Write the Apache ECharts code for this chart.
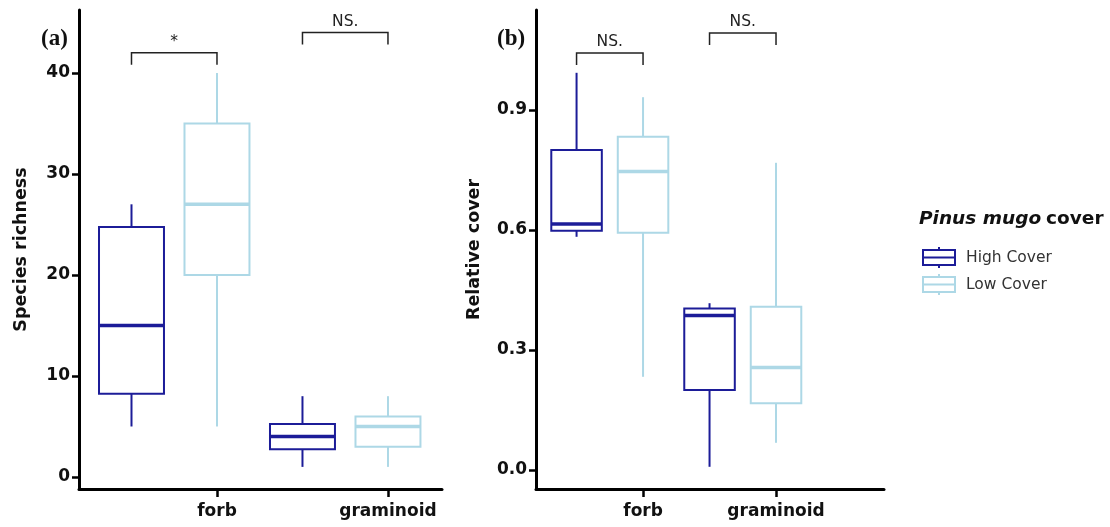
<!DOCTYPE html>
<html>
<head>
<meta charset="utf-8">
<script src="https://cdn.jsdelivr.net/npm/echarts@6/dist/echarts.min.js"></script>
<style>
  html, body { margin: 0; background: #fff; }
  #chart { width: 1110px; height: 527px; }
</style>
</head>
<body>
<div id="chart"></div>
<script>
const categories = ['forb', 'graminoid'];
const groups = ['High Cover', 'Low Cover'];
// each box: [min, Q1, median, Q3, max], one per category
const richnessHigh = [[5, 8.25, 15, 24.75, 27], [1, 2.75, 4, 5.25, 8]];
const richnessLow = [[5, 20, 27, 35, 40], [1, 3, 5, 6, 8]];
const coverHigh = [[0.583, 0.598, 0.615, 0.8, 0.993], [0.008, 0.2, 0.386, 0.404, 0.417]];
const coverLow = [[0.233, 0.593, 0.746, 0.833, 0.932], [0.068, 0.167, 0.256, 0.408, 0.768]];
const richnessTicks = [0, 10, 20, 30, 40];
const coverTicks = [0, 0.3, 0.6, 0.9];
// significance brackets over each category
const richnessSig = ['*', 'NS.'];
const richnessSigY = [42, 44];
const coverSig = ['NS.', 'NS.'];
const coverSigY = [1.0425, 1.0925];

const highColor = '#1c1c98';
const lowColor = '#add8e6';
const font = 'DejaVu Sans, sans-serif';
const catTicks = categories.map((c, i) => i + 1);
const highShift = 0.5; // High Cover box sits half a category left of the tick
const boxW = 0.38;

const chart = echarts.init(document.getElementById('chart'));

function boxData(rows, shift) {
  return rows.map((r, i) => [i + 1 - shift].concat(r));
}

function renderBox(color) {
  return function (params, api) {
    const x = api.value(0);
    const p = k => api.coord([x, api.value(k)]);
    const lo = p(1), q1 = p(2), med = p(3), q3 = p(4), hi = p(5);
    const hw = api.size([boxW, 0])[0] / 2;
    const cx = lo[0];
    const s = { stroke: color, lineWidth: 2, fill: null };
    return {
      type: 'group',
      children: [
        { type: 'line', shape: { x1: cx, y1: hi[1], x2: cx, y2: q3[1] }, style: s },
        { type: 'line', shape: { x1: cx, y1: q1[1], x2: cx, y2: lo[1] }, style: s },
        { type: 'rect', shape: { x: cx - hw, y: q3[1], width: hw * 2, height: q1[1] - q3[1] }, style: s },
        { type: 'line', shape: { x1: cx - hw, y1: med[1], x2: cx + hw, y2: med[1] }, style: { stroke: color, lineWidth: 3.5 } }
      ]
    };
  };
}

function renderBracket(labels) {
  return function (params, api) {
    const c = api.value(0);
    const l = api.coord([c - highShift, api.value(1)]);
    const r = api.coord([c, api.value(1)]);
    const leg = 12;
    return {
      type: 'group',
      children: [
        {
          type: 'polyline',
          shape: { points: [[l[0], l[1] + leg], [l[0], l[1]], [r[0], r[1]], [r[0], r[1] + leg]] },
          style: { stroke: '#222', lineWidth: 1.5, fill: null }
        },
        {
          type: 'text',
          x: (l[0] + r[0]) / 2,
          y: l[1] - 3,
          style: { text: labels[params.dataIndex], align: 'center', verticalAlign: 'bottom', fontSize: 15.5, fill: '#222', fontFamily: font }
        }
      ]
    };
  };
}

function xAxisOf(gridIndex, min, max) {
  return {
    type: 'value', gridIndex, min, max,
    axisLine: { onZero: false, lineStyle: { color: '#000', width: 3 } },
    axisTick: { customValues: catTicks, length: 8, lineStyle: { color: '#000', width: 2.5 } },
    axisLabel: {
      customValues: catTicks, formatter: v => categories[Math.round(v) - 1],
      fontSize: 17, fontWeight: 'bold', color: '#111', fontFamily: font, margin: 14
    },
    splitLine: { show: false }
  };
}

function yAxisOf(gridIndex, min, max, ticks, name, gap, fmt) {
  return {
    type: 'value', gridIndex, min, max, name,
    nameLocation: 'middle', nameGap: gap,
    nameTextStyle: { fontSize: 17.5, fontWeight: 'bold', color: '#111', fontFamily: font },
    axisLine: { show: true, onZero: false, lineStyle: { color: '#000', width: 3 } },
    axisTick: { show: true, customValues: ticks, length: 7, lineStyle: { color: '#000', width: 2.5 } },
    axisLabel: { customValues: ticks, formatter: fmt, fontSize: 17, fontWeight: 'bold', color: '#111', fontFamily: font, margin: 9 },
    splitLine: { show: false }
  };
}

const legendIcon = 'path://M16,0L16,3M0,3L32,3L32,18L0,18ZM0,10.5L32,10.5M16,18L16,21';

chart.setOption({
  animation: false,
  title: [
    {
      text: '{i|Pinus mugo} {b|cover}', left: 914, top: 205,
      textStyle: {
        rich: {
          i: { fontStyle: 'italic', fontWeight: 'bold', fontSize: 18.5, color: '#111', fontFamily: font },
          b: { fontWeight: 'bold', fontSize: 18.5, color: '#111', fontFamily: font }
        }
      }
    },
    { text: '(a)', left: 36, top: 23, textStyle: { fontFamily: 'Liberation Serif, serif', fontSize: 23, fontWeight: 'bold', color: '#111' } },
    { text: '(b)', left: 492, top: 23, textStyle: { fontFamily: 'Liberation Serif, serif', fontSize: 23, fontWeight: 'bold', color: '#111' } }
  ],
  legend: {
    orient: 'vertical', left: 917, top: 241,
    itemWidth: 32, itemHeight: 21, itemGap: 4,
    textStyle: { fontSize: 15.5, color: '#333', fontFamily: font, padding: [0, 0, 0, 6] },
    data: [
      { name: groups[0], icon: legendIcon, itemStyle: { color: 'rgba(0,0,0,0)', borderColor: highColor, borderWidth: 2 } },
      { name: groups[1], icon: legendIcon, itemStyle: { color: 'rgba(0,0,0,0)', borderColor: lowColor, borderWidth: 2 } }
    ]
  },
  grid: [
    { left: 79, right: 668, top: 10, bottom: 38 },
    { left: 536, right: 226, top: 10, bottom: 38 }
  ],
  xAxis: [xAxisOf(0, 0.193, 2.316), xAxisOf(1, 0.195, 2.812)],
  yAxis: [
    yAxisOf(0, -1.19, 46.24, richnessTicks, 'Species richness', 49, v => String(v)),
    yAxisOf(1, -0.0475, 1.15, coverTicks, 'Relative cover', 53, v => v.toFixed(1))
  ],
  series: [
    { name: groups[0], type: 'custom', xAxisIndex: 0, yAxisIndex: 0, itemStyle: { color: highColor }, renderItem: renderBox(highColor), data: boxData(richnessHigh, highShift) },
    { name: groups[1], type: 'custom', xAxisIndex: 0, yAxisIndex: 0, itemStyle: { color: lowColor }, renderItem: renderBox(lowColor), data: boxData(richnessLow, 0) },
    { name: groups[0], type: 'custom', xAxisIndex: 1, yAxisIndex: 1, itemStyle: { color: highColor }, renderItem: renderBox(highColor), data: boxData(coverHigh, highShift) },
    { name: groups[1], type: 'custom', xAxisIndex: 1, yAxisIndex: 1, itemStyle: { color: lowColor }, renderItem: renderBox(lowColor), data: boxData(coverLow, 0) },
    { name: 'sigA', type: 'custom', xAxisIndex: 0, yAxisIndex: 0, renderItem: renderBracket(richnessSig), data: richnessSigY.map((y, i) => [i + 1, y]) },
    { name: 'sigB', type: 'custom', xAxisIndex: 1, yAxisIndex: 1, renderItem: renderBracket(coverSig), data: coverSigY.map((y, i) => [i + 1, y]) }
  ]
});
</script>
</body>
</html>
